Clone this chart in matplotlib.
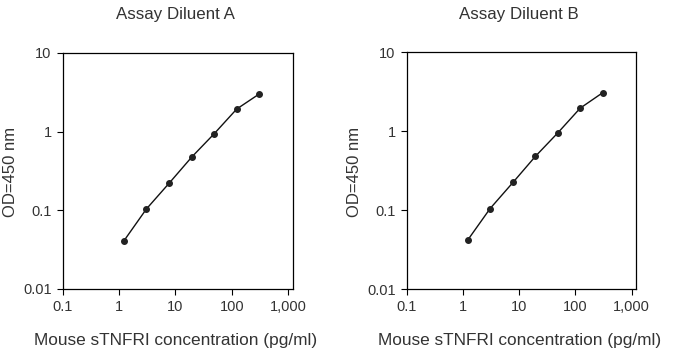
import matplotlib
matplotlib.use("Agg")
import matplotlib.pyplot as plt
from matplotlib.ticker import FixedLocator, FixedFormatter, NullLocator

plt.rcParams['font.family'] = ['Liberation Sans', 'DejaVu Sans']

conc = [1.22, 3.05, 7.8, 19.5, 48.8, 122, 305]
od_a = [0.041, 0.104, 0.223, 0.477, 0.944, 1.94, 3.01]
od_b = [0.042, 0.105, 0.225, 0.48, 0.95, 1.95, 3.05]
titles = ["Assay Diluent A", "Assay Diluent B"]
xticks = [0.1, 1, 10, 100, 1000]
xticklabels = ["0.1", "1", "10", "100", "1,000"]
yticks = [0.01, 0.1, 1, 10]
yticklabels = ["0.01", "0.1", "1", "10"]
xlabel = "Mouse sTNFRI concentration (pg/ml)"
ylabel = "OD=450 nm"

W, H = 674, 354
fig = plt.figure(figsize=(W / 100, H / 100), dpi=100)

boxes = [(62.7, 53, 292.7, 289), (406.7, 52, 636, 289.3)]
tcol = "#333333"
for (x0, y0, x1, y1), title, od in zip(boxes, titles, [od_a, od_b]):
    ax = fig.add_axes([x0 / W, 1 - y1 / H, (x1 - x0) / W, (y1 - y0) / H])
    ax.plot(conc, od, color="#111111", lw=1.0, marker="o", ms=4,
            mfc="#222222", mec="#222222")
    ax.set_xscale("log")
    ax.set_yscale("log")
    ax.set_xlim(0.1, 1200)
    ax.set_ylim(0.01, 10)
    ax.xaxis.set_major_locator(FixedLocator(xticks))
    ax.xaxis.set_major_formatter(FixedFormatter(xticklabels))
    ax.xaxis.set_minor_locator(NullLocator())
    ax.yaxis.set_major_locator(FixedLocator(yticks))
    ax.yaxis.set_major_formatter(FixedFormatter(yticklabels))
    ax.yaxis.set_minor_locator(NullLocator())
    ax.tick_params(direction="out", length=4, width=0.8, labelsize=10.5,
                   colors="black", labelcolor=tcol, pad=4)
    for s in ax.spines.values():
        s.set_linewidth(0.9)
        s.set_color("black")
    cx = (x0 + x1) / 2
    fig.text((cx - 2) / W, 1 - 14 / H, title, ha="center", va="center",
             fontsize=12.2, color=tcol)
    fig.text((cx - 2) / W, 1 - 340 / H, xlabel, ha="center", va="center",
             fontsize=12.4, color=tcol)
    fig.text((x0 - 52) / W, 1 - 172 / H, ylabel, ha="center", va="center",
             fontsize=12, color=tcol, rotation=90)

fig.savefig("out.png", dpi=100)
